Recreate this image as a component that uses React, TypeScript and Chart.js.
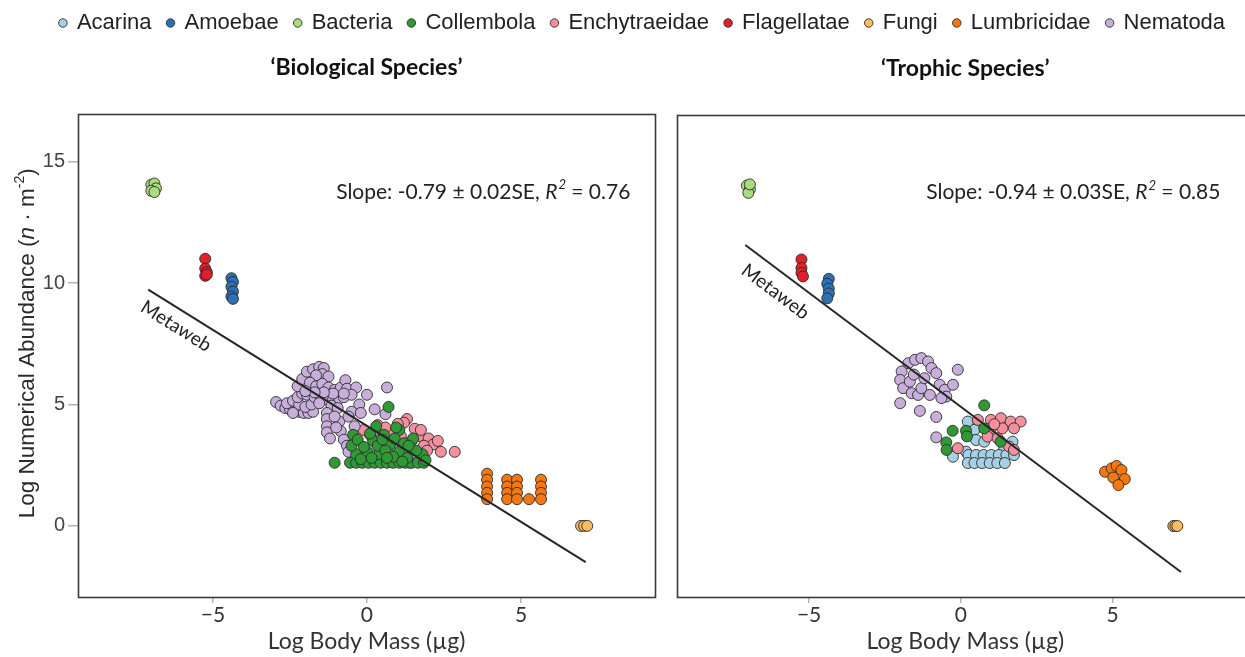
import React, { useEffect, useRef } from "react";
import { Chart, registerables } from "chart.js";
Chart.register(...registerables);

// ---------- data ----------
const SPECIES = ["Acarina", "Amoebae", "Bacteria", "Collembola", "Enchytraeidae", "Flagellatae", "Fungi", "Lumbricidae", "Nematoda"];
const COLORS = ["#a6d0e4", "#2f6fb4", "#a9dc7c", "#2f9a35", "#f48f9e", "#e0202a", "#fbbb62", "#f5770f", "#c8aedb"];
// lower = drawn on top
const DRAW_ORDER = [4, 2, 2, 0, 3, 2, 2, 2, 1];

const X_TICKS = [-5, 0, 5];
const Y_TICKS = [0, 5, 10, 15];

// Biological species (left panel): [log body mass, log abundance]
const BIO_ACARINA = [[0.35, 3.95], [1.15, 3.35], [-0.25, 2.85], [1.4, 2.6], [1.7, 2.65], [0.95, 2.9], [0.0, 2.7], [0.5, 2.7], [0.75, 3.05], [1.3, 3.0], [1.55, 2.85], [-0.45, 3.0], [0.2, 3.2], [0.6, 3.3], [1.0, 3.2], [1.85, 2.9], [0.3, 2.9]];
const BIO_AMOEBAE = [[-4.4, 10.2], [-4.35, 10.05], [-4.4, 9.85], [-4.35, 9.65], [-4.4, 9.45], [-4.35, 9.35]];
const BIO_BACTERIA = [[-7.0, 14.05], [-6.9, 14.1], [-6.85, 13.9], [-7.0, 13.8], [-6.9, 13.75]];
const BIO_COLLEMBOLA = [[-0.55, 2.6], [-0.35, 2.6], [-0.15, 2.6], [0.05, 2.6], [0.25, 2.6], [0.45, 2.6], [0.65, 2.6], [0.85, 2.6], [1.05, 2.6], [1.25, 2.6], [1.45, 2.6], [1.65, 2.6], [1.85, 2.6], [-1.05, 2.6], [0.7, 4.9], [0.2, 3.5], [0.55, 3.75], [0.75, 3.35], [1.05, 3.95], [1.5, 3.6], [1.8, 2.95], [0.0, 3.05], [-0.45, 3.75], [-0.35, 2.95], [0.4, 2.95], [1.05, 3.05], [1.3, 2.8], [-0.5, 3.3], [-0.3, 3.55], [0.1, 3.8], [0.35, 3.3], [0.6, 3.1], [0.9, 3.6], [1.2, 3.4], [0.85, 2.85], [0.15, 2.8], [-0.2, 2.75], [1.6, 3.1], [0.5, 3.55], [0.95, 4.05], [1.35, 3.3], [-0.1, 3.25], [0.3, 4.1], [1.15, 2.65], [0.65, 2.8], [1.9, 2.7]];
const BIO_ENCHYTRAEIDAE = [[1.3, 4.4], [1.2, 4.25], [0.35, 4.15], [0.1, 3.75], [0.8, 3.85], [1.7, 3.7], [2.0, 3.6], [2.15, 3.35], [2.4, 3.05], [2.85, 3.05], [1.85, 3.3], [1.55, 4.0], [1.0, 4.2], [0.6, 4.05], [1.45, 3.5], [1.75, 3.95], [2.3, 3.5], [1.1, 3.7], [0.45, 3.6], [-0.1, 3.95], [1.95, 3.1]];
const BIO_FLAGELLATAE = [[-5.25, 11.0], [-5.25, 10.6], [-5.2, 10.45], [-5.25, 10.3], [-5.2, 10.35]];
const BIO_FUNGI = [[6.95, 0], [7.05, 0], [7.15, 0]];
const BIO_LUMBRICIDAE = [[3.9, 2.15], [3.9, 1.9], [3.9, 1.62], [3.9, 1.36], [3.9, 1.1], [4.55, 1.9], [4.55, 1.62], [4.55, 1.36], [4.55, 1.1], [4.87, 1.9], [4.87, 1.62], [4.87, 1.36], [4.87, 1.1], [5.26, 1.1], [5.65, 1.9], [5.65, 1.62], [5.65, 1.36], [5.65, 1.1]];
const BIO_NEMATODA = [[-2.95, 5.1], [-2.8, 4.95], [-2.65, 4.85], [-2.5, 4.8], [-2.35, 4.75], [-2.2, 4.7], [-2.05, 4.65], [-1.9, 4.65], [-1.75, 4.7], [-2.6, 5.05], [-2.4, 5.15], [-2.2, 5.0], [-2.0, 4.9], [-1.8, 5.0], [-2.4, 4.65], [-2.25, 5.3], [-2.1, 5.45], [-1.95, 5.4], [-1.7, 5.3], [-1.5, 5.25], [-1.3, 5.2], [-1.1, 5.2], [-0.9, 5.25], [-0.75, 5.3], [-2.25, 5.75], [-2.1, 6.05], [-1.95, 6.35], [-1.75, 6.45], [-1.55, 6.55], [-1.4, 6.5], [-1.45, 6.25], [-1.25, 6.15], [-1.65, 6.2], [-1.85, 5.9], [-1.65, 5.75], [-1.45, 5.85], [-1.25, 5.7], [-1.05, 5.6], [-0.85, 5.7], [-0.7, 6.0], [-0.65, 5.65], [-0.35, 5.7], [-0.5, 5.4], [-0.75, 5.45], [-1.1, 5.45], [-1.4, 5.5], [-1.7, 5.5], [-2.0, 5.55], [-1.55, 5.05], [-1.15, 4.95], [-0.95, 4.85], [-0.25, 5.0], [0.0, 5.4], [0.25, 4.8], [0.65, 5.7], [0.6, 4.6], [-0.5, 4.7], [-0.2, 4.65], [-1.3, 4.65], [-1.3, 4.4], [-1.3, 4.1], [-1.3, 3.85], [-1.2, 3.6], [-0.9, 4.3], [-0.85, 3.9], [-0.75, 3.55], [-0.65, 3.3], [-0.6, 3.05], [-0.4, 4.1], [-1.05, 4.5], [-0.6, 4.5], [-1.0, 4.05]];
const BIO_FIT = [[-7.1, 9.73], [7.1, -1.49]];

// Trophic species (right panel)
const TRO_ACARINA = [[0.23, 4.31], [0.45, 3.97], [0.5, 3.55], [0.77, 3.48], [1.7, 3.48], [1.43, 3.21], [0.17, 3.07], [-0.26, 2.86], [0.25, 2.93], [0.5, 2.93], [0.75, 2.93], [1.0, 2.93], [1.25, 2.93], [1.5, 2.93], [1.75, 2.93], [0.23, 2.6], [0.45, 2.6], [0.7, 2.6], [0.95, 2.6], [1.2, 2.6], [1.45, 2.6]];
const TRO_AMOEBAE = [[-4.35, 10.2], [-4.4, 10.0], [-4.35, 9.8], [-4.35, 9.6], [-4.4, 9.4]];
const TRO_BACTERIA = [[-7.05, 14.05], [-6.95, 13.9], [-7.0, 13.75], [-6.95, 14.1]];
const TRO_COLLEMBOLA = [[0.77, 4.98], [-0.27, 3.93], [0.17, 3.93], [0.2, 3.7], [-0.48, 3.45], [-0.47, 3.14], [1.31, 3.48], [0.77, 4.03]];
const TRO_ENCHYTRAEIDAE = [[0.56, 4.38], [0.99, 4.38], [1.32, 4.45], [1.64, 4.31], [1.97, 4.31], [0.99, 4.03], [1.37, 4.03], [1.75, 4.03], [0.88, 3.69], [1.21, 3.62], [1.59, 3.28], [-0.1, 3.21], [1.75, 3.14], [1.1, 4.2]];
const TRO_FLAGELLATAE = [[-5.25, 11.0], [-5.25, 10.65], [-5.25, 10.45], [-5.2, 10.3]];
const TRO_FUNGI = [[7.0, 0], [7.07, 0], [7.13, 0]];
const TRO_LUMBRICIDAE = [[4.75, 2.24], [4.97, 2.38], [5.13, 2.48], [5.29, 2.31], [5.02, 2.0], [5.4, 1.94], [5.19, 1.69]];
const TRO_NEMATODA = [[-1.95, 6.38], [-1.73, 6.72], [-1.51, 6.86], [-1.3, 6.93], [-1.08, 6.79], [-0.97, 6.52], [-0.81, 6.31], [-0.1, 6.45], [-2.0, 6.03], [-1.9, 5.69], [-1.68, 5.96], [-1.62, 5.48], [-1.41, 5.41], [-1.3, 5.69], [-1.02, 5.41], [-0.7, 5.83], [-0.53, 5.62], [-0.26, 5.83], [-0.48, 5.34], [-0.64, 5.28], [-2.0, 5.07], [-1.35, 4.75], [-0.81, 4.5], [-0.81, 3.66], [-1.2, 6.1], [-1.55, 6.25]];
const TRO_FIT = [[-7.1, 11.6], [7.25, -1.9]];

const BIO_SETS = [BIO_ACARINA, BIO_AMOEBAE, BIO_BACTERIA, BIO_COLLEMBOLA, BIO_ENCHYTRAEIDAE, BIO_FLAGELLATAE, BIO_FUNGI, BIO_LUMBRICIDAE, BIO_NEMATODA];
const TRO_SETS = [TRO_ACARINA, TRO_AMOEBAE, TRO_BACTERIA, TRO_COLLEMBOLA, TRO_ENCHYTRAEIDAE, TRO_FLAGELLATAE, TRO_FUNGI, TRO_LUMBRICIDAE, TRO_NEMATODA];

const TITLES = ["\u2018Biological Species\u2019", "\u2018Trophic Species\u2019"];
const SLOPE_TEXT = [["Slope: -0.79 \u00b1 0.02SE, ", " = 0.76"], ["Slope: -0.94 \u00b1 0.03SE, ", " = 0.85"]];
const X_TITLE = "Log Body Mass (\u00b5g)";
const Y_TITLE = ["Log Numerical Abundance (", "n", " \u00b7 m", "-2", ")"];
const FIT_LABEL = "Metaweb";

const CAL = "Lato, 'Open Sans', sans-serif";
const ARIAL = "'Liberation Sans', Arial, sans-serif";

const toPts = (a: number[][]) => a.map(([x, y]) => ({ x, y }));

function makeDatasets(sets: number[][][], fit: number[][]) {
  const ds: any[] = sets.map((s, i) => ({
    label: SPECIES[i],
    data: toPts(s),
    backgroundColor: COLORS[i],
    pointBackgroundColor: COLORS[i],
    borderColor: "rgba(45,45,45,0.9)",
    pointBorderColor: "rgba(45,45,45,0.9)",
    pointBorderWidth: 1,
    borderWidth: 1,
    pointRadius: 5.5,
    showLine: false,
    order: DRAW_ORDER[i],
  }));
  ds.push({
    label: "fit",
    data: toPts(fit),
    showLine: true,
    borderColor: "#262626",
    borderWidth: 2,
    pointRadius: 0,
    order: -1,
  });
  return ds;
}

function decorPlugin(panel: number, labelPos: { x: number; y: number }, slopePos: { x: number; y: number }, drawYTitle: boolean) {
  return {
    id: "decor" + panel,
    afterDatasetsDraw(chart: any) {
      const ctx = chart.ctx;
      const a = chart.chartArea;
      const xs = chart.scales.x;
      const ys = chart.scales.y;
      ctx.save();
      // frame
      ctx.strokeStyle = "#3b3b3b";
      ctx.lineWidth = 1.6;
      ctx.strokeRect(Math.round(a.left) + 0.5, Math.round(a.top) + 0.5, Math.round(a.right - a.left), Math.round(a.bottom - a.top));

      // fit label
      const fit = panel === 0 ? BIO_FIT : TRO_FIT;
      const x1 = xs.getPixelForValue(fit[0][0]);
      const y1 = ys.getPixelForValue(fit[0][1]);
      const x2 = xs.getPixelForValue(fit[1][0]);
      const y2 = ys.getPixelForValue(fit[1][1]);
      const ang = Math.atan2(y2 - y1, x2 - x1);
      ctx.save();
      ctx.translate(xs.getPixelForValue(labelPos.x), ys.getPixelForValue(labelPos.y));
      ctx.rotate(ang);
      ctx.fillStyle = "#222";
      ctx.font = `19px ${CAL}`;
      ctx.textAlign = "center";
      ctx.textBaseline = "middle";
      ctx.fillText(FIT_LABEL, 0, 0);
      ctx.restore();

      // slope text (right aligned)
      const [pre, post] = SLOPE_TEXT[panel];
      const fN = `21px ${CAL}`;
      const fI = `italic 21px ${CAL}`;
      const fS = `italic 13px ${CAL}`;
      ctx.font = fN;
      const wPre = ctx.measureText(pre).width;
      const wPost = ctx.measureText(post).width;
      ctx.font = fI;
      const wR = ctx.measureText("R").width;
      ctx.font = fS;
      const wS = ctx.measureText("2").width + 1;
      const total = wPre + wR + wS + wPost;
      let sx = xs.getPixelForValue(slopePos.x) - total;
      const sy = ys.getPixelForValue(slopePos.y);
      ctx.fillStyle = "#222";
      ctx.textAlign = "left";
      ctx.textBaseline = "middle";
      ctx.font = fN; ctx.fillText(pre, sx, sy); sx += wPre;
      ctx.font = fI; ctx.fillText("R", sx, sy); sx += wR;
      ctx.font = fS; ctx.fillText("2", sx + 1, sy - 7); sx += wS;
      ctx.font = fN; ctx.fillText(post, sx, sy);

      if (drawYTitle) {
        ctx.save();
        ctx.translate(28, (a.top + a.bottom) / 2 - 12);
        ctx.rotate(-Math.PI / 2);
        const size = 22.5;
        const fonts = [`${size}px ${ARIAL}`, `italic ${size}px ${ARIAL}`, `${size}px ${ARIAL}`, `14px ${ARIAL}`, `${size}px ${ARIAL}`];
        const offs = [0, 0, 0, -8, 0];
        const widths = Y_TITLE.map((t, i) => { ctx.font = fonts[i]; return ctx.measureText(t).width; });
        let tx = -widths.reduce((p, c) => p + c, 0) / 2;
        ctx.fillStyle = "#2b2b2b";
        ctx.textAlign = "left";
        ctx.textBaseline = "middle";
        Y_TITLE.forEach((t, i) => { ctx.font = fonts[i]; ctx.fillText(t, tx, offs[i]); tx += widths[i]; });
        ctx.restore();
      }
      ctx.restore();
    },
  };
}

const fmt = (v: any) => (Number(v) < 0 ? "\u2212" + Math.abs(Number(v)) : String(v));

function xScale(min: number, max: number) {
  return {
    type: "linear",
    min, max,
    afterBuildTicks: (s: any) => { s.ticks = X_TICKS.map((v) => ({ value: v })); },
    ticks: { font: { family: CAL, size: 21 }, color: "#333", callback: fmt, padding: 0, maxRotation: 0 },
    grid: { drawOnChartArea: false, drawTicks: true, tickLength: 6, color: "#b5b5b5", lineWidth: 1.5 },
    border: { display: false },
    title: { display: true, text: X_TITLE, font: { family: CAL, size: 23 }, color: "#333", padding: { top: 0, bottom: 2 } },
    afterFit: (s: any) => { s.height = 60; },
  };
}

export default function App() {
  const refA = useRef<HTMLCanvasElement>(null);
  const refB = useRef<HTMLCanvasElement>(null);

  useEffect(() => {
    const legendOpts = {
      display: true,
      position: "top",
      weight: 3000,
      labels: {
        usePointStyle: true,
        pointStyle: "circle",
        boxWidth: 6,
        boxHeight: 6,
        padding: 16,
        color: "#222",
        font: { family: ARIAL, size: 22 },
        filter: (item: any) => item.datasetIndex < SPECIES.length,
        sort: (p: any, q: any) => p.datasetIndex - q.datasetIndex,
      },
    };
    const titleOpts = (i: number) => ({
      display: true,
      text: TITLES[i],
      fullSize: false,
      weight: 500,
      font: { family: CAL, size: 23, weight: "bold" },
      color: "#111",
      padding: { top: 10, bottom: 32 },
    });

    const chartA = new Chart(refA.current as HTMLCanvasElement, {
      type: "scatter",
      data: { datasets: makeDatasets(BIO_SETS, BIO_FIT) },
      options: {
        responsive: false,
        animation: false,
        layout: { padding: { top: -4, left: 40, right: 0, bottom: 0 } },
        plugins: { legend: legendOpts as any, title: titleOpts(0) as any, tooltip: { enabled: false } },
        scales: {
          x: xScale(-9.38, 9.35) as any,
          y: {
            type: "linear",
            min: -2.93, max: 16.98,
            afterBuildTicks: (s: any) => { s.ticks = Y_TICKS.map((v) => ({ value: v })); },
            ticks: { font: { family: ARIAL, size: 20 }, color: "#444", padding: 3 },
            grid: { drawOnChartArea: false, drawTicks: true, tickLength: 10, color: "#b5b5b5", lineWidth: 1.5 },
            border: { display: false },
            afterFit: (s: any) => { s.width = 38; },
          },
          pad: {
            type: "linear",
            position: "right",
            display: true,
            ticks: { display: false },
            grid: { display: false },
            border: { display: false },
            afterFit: (s: any) => { s.width = 590; },
          },
        } as any,
      },
      plugins: [decorPlugin(0, { x: -6.2, y: 8.22 }, { x: 8.55, y: 13.76 }, true)],
    });

    const chartB = new Chart(refB.current as HTMLCanvasElement, {
      type: "scatter",
      data: { datasets: makeDatasets(TRO_SETS, TRO_FIT) },
      options: {
        responsive: false,
        animation: false,
        layout: { padding: { top: 45, left: 0, right: 2, bottom: 0 } },
        plugins: { legend: { display: false }, title: titleOpts(1) as any, tooltip: { enabled: false } },
        scales: {
          x: xScale(-9.35, 9.64) as any,
          y: {
            type: "linear",
            min: -2.93, max: 16.98,
            ticks: { display: false },
            grid: { display: false },
            border: { display: false },
            afterFit: (s: any) => { s.width = 17; },
          },
        } as any,
      },
      plugins: [decorPlugin(1, { x: -6.11, y: 9.67 }, { x: 8.55, y: 13.76 }, false)],
    });

    return () => { chartA.destroy(); chartB.destroy(); };
  }, []);

  return (
    <div style={{ position: "absolute", left: 0, top: 0, width: 1245, height: 657, overflow: "hidden", background: "#fff" }}>
      <canvas ref={refA} width={1245} height={657} style={{ position: "absolute", left: 0, top: 0, width: 1245, height: 657 }} />
      <canvas ref={refB} width={600} height={657} style={{ position: "absolute", left: 660, top: 0, width: 600, height: 657 }} />
    </div>
  );
}
